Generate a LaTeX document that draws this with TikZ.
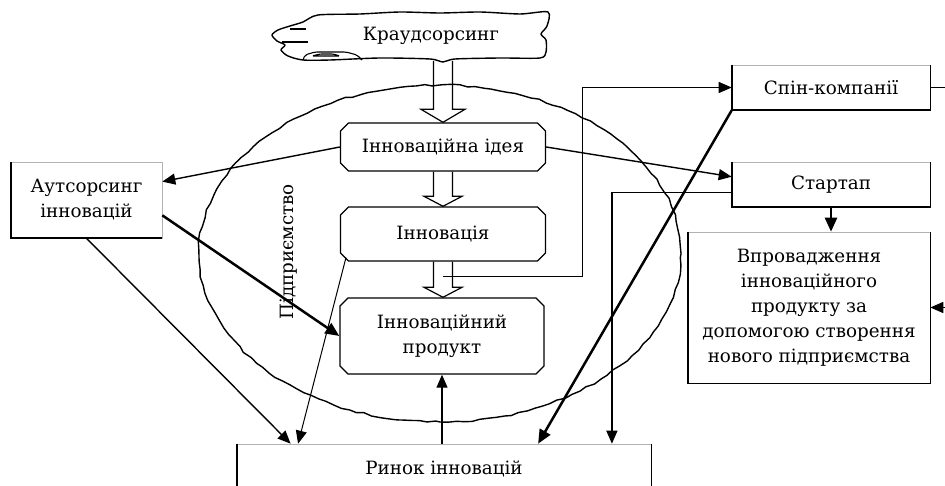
\documentclass[tikz,border=0pt]{standalone}
\usepackage{fontspec}
\setmainfont{DejaVu Serif}
\usetikzlibrary{shapes.misc,calc,arrows.meta,decorations.pathmorphing}
\newcommand{\blockarr}[4]{%
  \draw[line width=1.2pt, line join=miter] let \p1=(#1), \p2=(#2) in
    (\x1-9.5pt,\y1) -- (\x1-9.5pt,\y2+#3) -- (\x1-#4,\y2+#3) -- (\x1,\y2)
    -- (\x1+#4,\y2+#3) -- (\x1+9.5pt,\y2+#3) -- (\x1+9.5pt,\y1);}
\newcommand{\boxedges}[1]{%
  \draw[line width=1.6pt] (#1.north west) -- (#1.south west) -- (#1.south east) -- (#1.north east);}
\begin{document}
\begin{tikzpicture}[x=1pt,y=-1pt,
  font=\fontsize{18.3}{25}\selectfont,
  cbox/.style={chamfered rectangle, chamfered rectangle sep=4pt, draw, line width=1.4pt,
    align=center, inner sep=0pt, fill=white},
  box/.style={rectangle, draw=gray!60, line width=0.6pt, align=center, inner sep=0pt, fill=white},
  arr/.style={-{Triangle[length=13pt,width=11pt]}, line width=1.4pt},
  thinarr/.style={-{Triangle[length=13pt,width=11pt]}, line width=1pt},
  thickarr/.style={-{Triangle[length=14pt,width=12pt]}, line width=2.5pt},
  wobbly/.style={line width=1.4pt, decorate, decoration={random steps, segment length=8pt, amplitude=1pt}, line join=round}
]
\useasboundingbox (0,0) rectangle (945,486);
\clip (0,0) rectangle (945,486);

% enterprise ellipse
\draw[wobbly] (440,253.5) ellipse [x radius=241pt, y radius=168.5pt];
\node[rotate=90] (ent) at (289,252) {Підприємство};

% cloud
\draw[line width=1.4pt, line join=round]
  plot[smooth cycle, tension=0.45] coordinates {
   (303,22) (318,15) (360,14) (400,12) (440,13) (480,12) (520,14) (548,12)
   (547,26) (541,34) (546,40) (546,52) (540,58) (500,58) (455,59) (443,62)
   (430,59) (380,58) (330,60) (303,60) (288,56) (281,50) (285,45)
   (277,41) (272,35) (278,30) (290,26)};
\draw[line width=1.1pt] (290,29) -- (306,29);
\draw[line width=1.1pt] (282,42) -- (308,42);
\draw[line width=1.1pt, rounded corners=2pt] (303,60) -- (305,55) -- (315,52) -- (346,52) -- (357,55) -- (362,60);
\draw[line width=1.1pt, rounded corners=1.5pt] (312,56) -- (320,54) -- (333,54) -- (340,56) -- cycle;
\node (crowd) at (431,36) {Краудсорсинг};
\coordinate (cb) at (443,61);

% central boxes
\node[cbox, minimum width=205pt, minimum height=48pt] (idea) at (443,147) {Інноваційна ідея};
\node[cbox, minimum width=205pt, minimum height=54pt] (innov) at (443,234) {Інновація};
\node[cbox, minimum width=204pt, minimum height=76pt] (prod) at (442,336) {Інноваційний\\продукт};

% outer boxes
\node[box, minimum width=151pt, minimum height=76pt] (out) at (86.5,200) {Аутсорсинг\\інновацій};
\node[box, minimum width=198pt, minimum height=45pt] (spin) at (831,87.5) {Спін-компанії};
\node[box, minimum width=198pt, minimum height=45pt] (start) at (831,184.5) {Стартап};
\node[box, minimum width=242pt, minimum height=151pt] (impl) at (809,307.5)
  {Впровадження\\інноваційного\\продукту за\\допомогою створення\\нового підприємства};
\node[box, minimum width=414pt, minimum height=50pt] (market) at (444,469) {Ринок інновацій};

\draw[line width=1.6pt] (out.north west) -- (out.south west) -- (out.south east);
\boxedges{spin}
\boxedges{start}
\boxedges{impl}
\boxedges{market}

% block arrows
\blockarr{cb}{idea.north}{13pt}{22pt}
\blockarr{idea.south}{innov.north}{10pt}{19pt}
\blockarr{innov.south}{prod.north}{10pt}{19pt}

% connectors
\coordinate (rt) at (950,0);
\coordinate (j1) at ($(innov.south)+(0,15)$);
\draw[arr] (idea.west) -- ($(out.north east)!0.26!(out.south east)$);
\draw[arr] (idea.east) -- ($(start.north west)!0.33!(start.south west)$);
\draw[thickarr] ($(out.north east)!0.7!(out.south east)$) -- (prod.west);
\draw[arr] (out.south) -- ($(market.north west)!0.13!(market.north east)$);
\draw[thinarr] ($(innov.south west)+(2,0)$) -- ($(market.north west)!0.148!(market.north east)$);
\draw[arr] (prod.south |- market.north) -- (prod.south);
\draw[thickarr] (spin.south west) -- ($(market.north west)!0.727!(market.north east)$);
\draw[arr] (j1) -| ($(spin.west)+(-149,0)$) -- (spin.west);
\draw[arr] ($(start.north west)!0.68!(start.south west)$) -| ($(market.north west)!0.905!(market.north east)$);
\draw[thickarr] (start.south) -- (start.south |- impl.north);
\draw[arr] (spin.east) -- (spin.east -| rt) |- (impl.east);
\end{tikzpicture}
\end{document}
